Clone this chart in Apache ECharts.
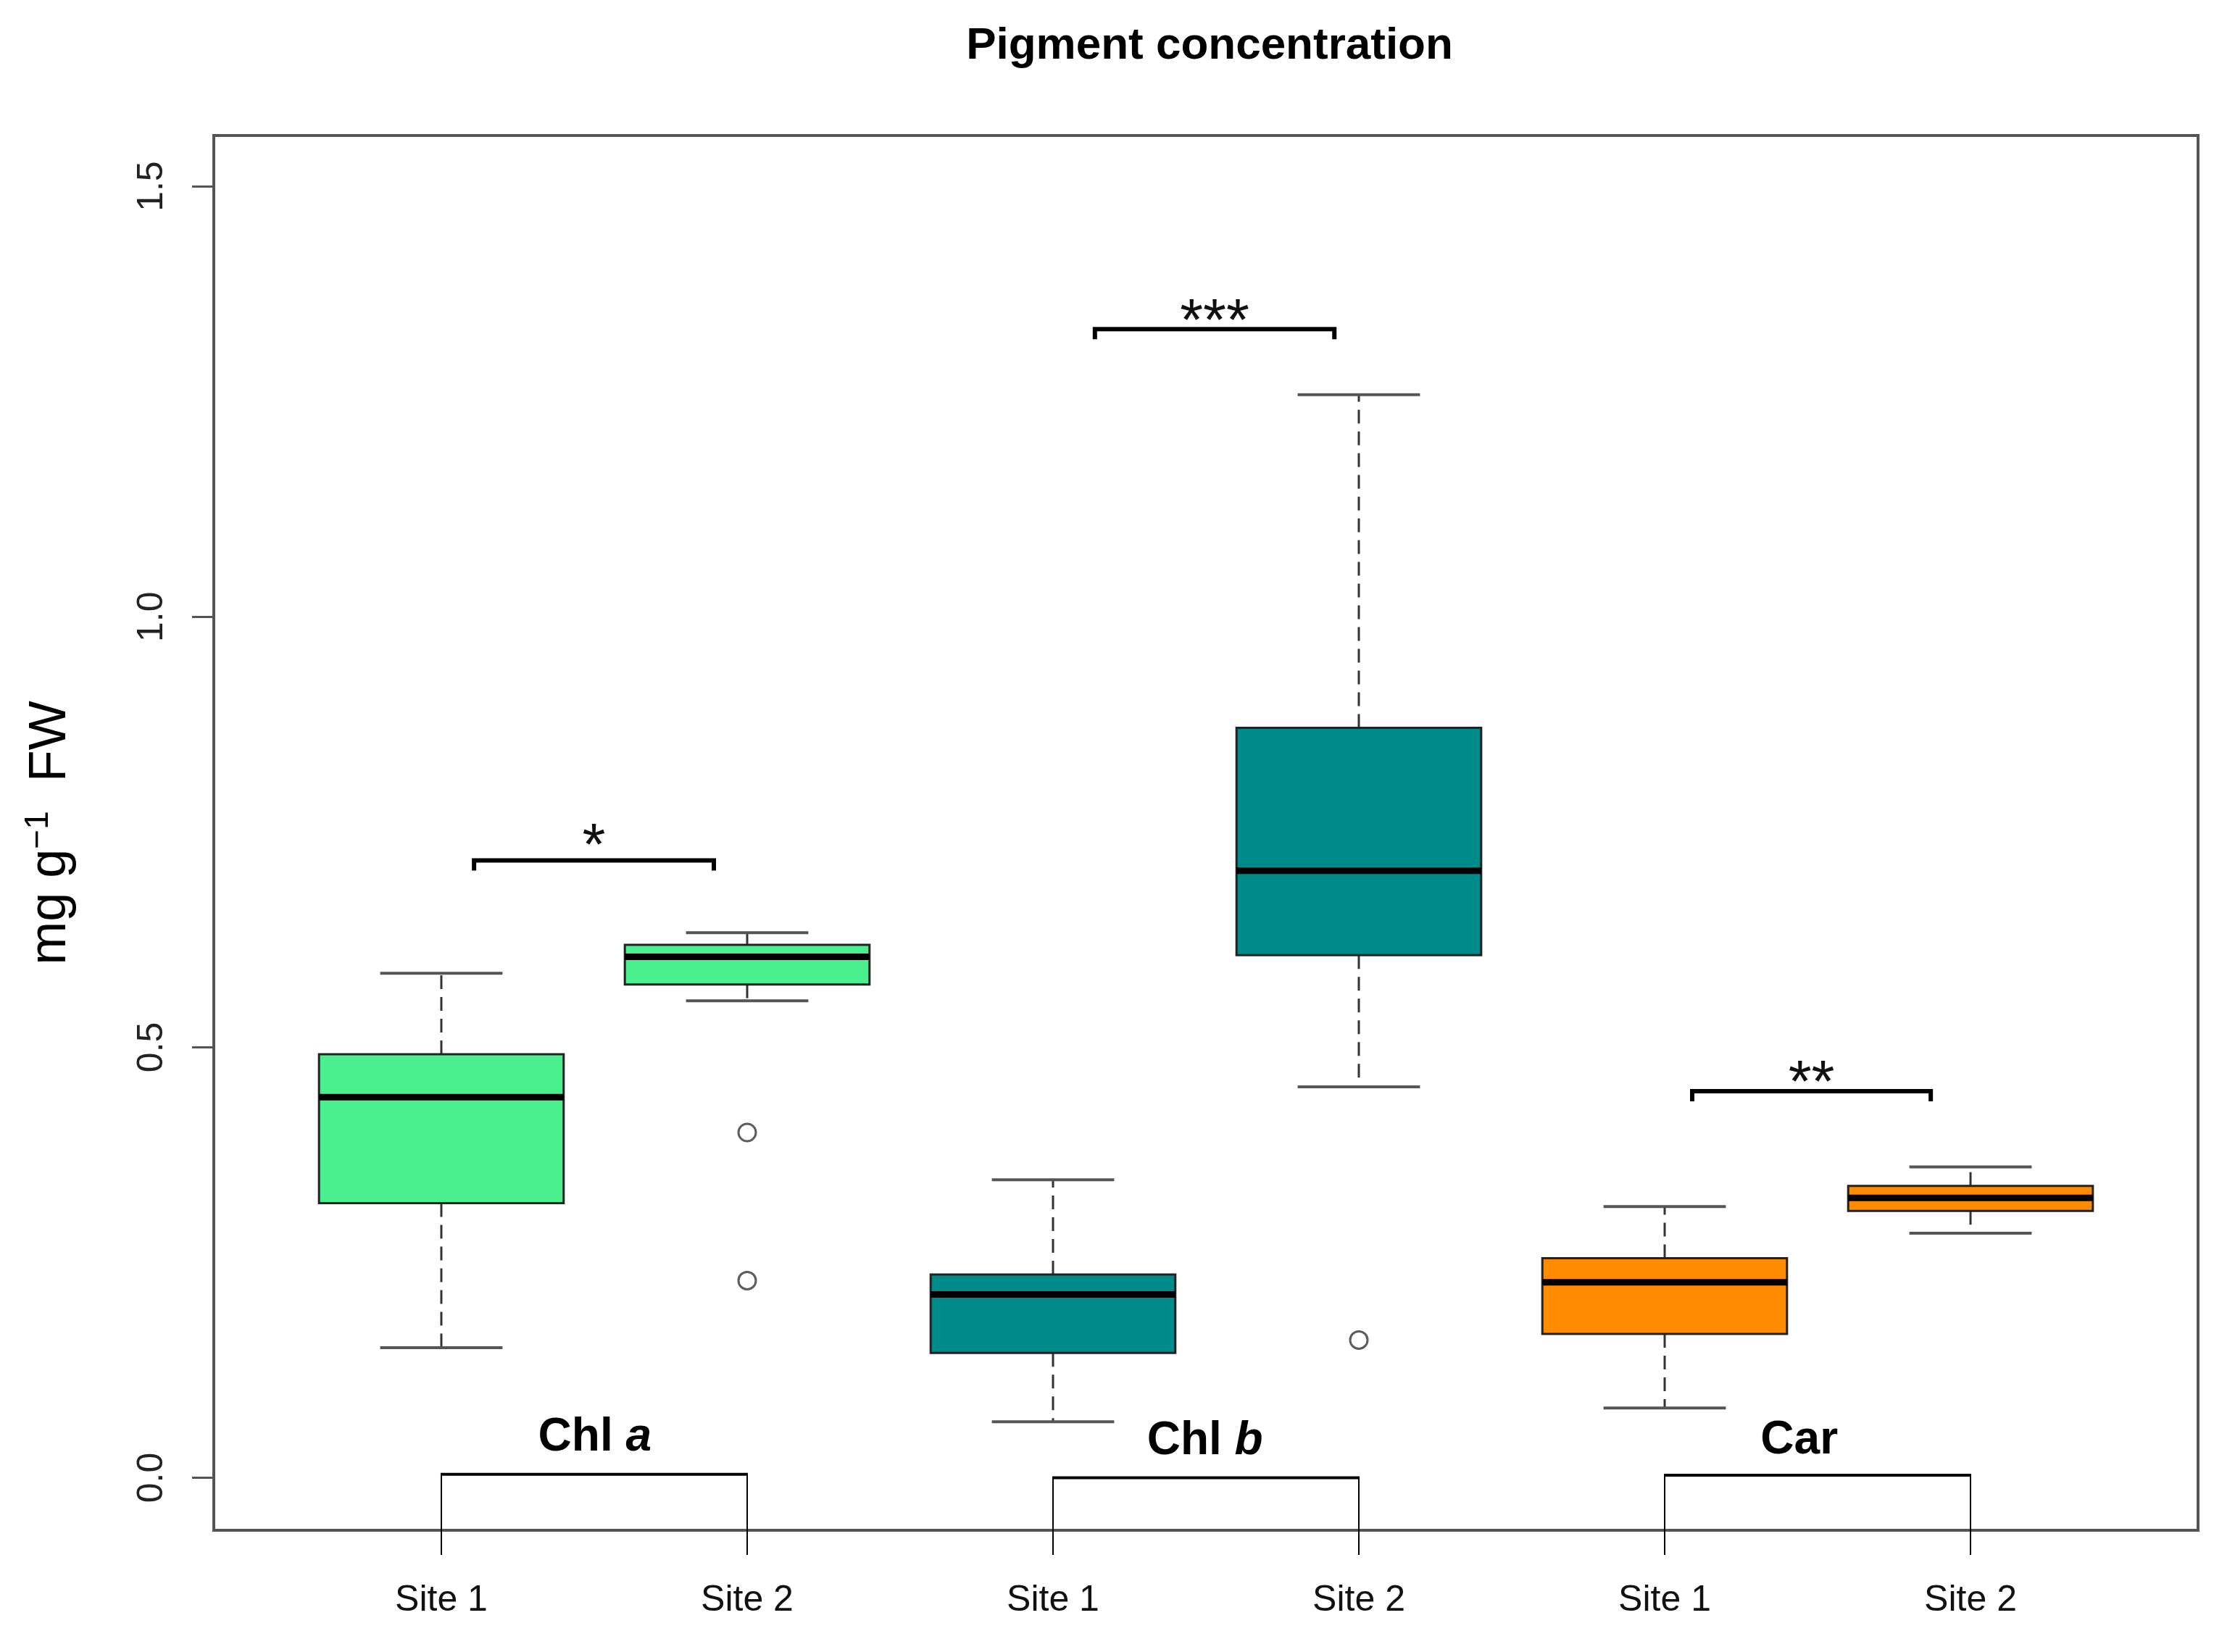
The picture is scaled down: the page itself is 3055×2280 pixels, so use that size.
<!DOCTYPE html>
<html>
<head>
<meta charset="utf-8">
<title>Pigment concentration</title>
<script src="https://cdn.jsdelivr.net/npm/echarts@6/dist/echarts.min.js"></script>
<style>
  html, body { margin: 0; padding: 0; background: #fff; }
  #chart { width: 3055px; height: 2280px; }
</style>
</head>
<body>
<div id="chart"></div>
<script>
// boxplot of pigment concentration, two sites per pigment
const categories = ['Site 1', 'Site 2', 'Site 1', 'Site 2', 'Site 1', 'Site 2'];
const pigments = ['Chl', 'Chl', 'Car'];
const pigmentItalic = ['a', 'b', ''];

// [lower whisker, Q1, median, Q3, upper whisker]
const chlA = [[0.151, 0.319, 0.442, 0.492, 0.586], [0.554, 0.573, 0.605, 0.619, 0.633]];
const chlB = [[0.065, 0.145, 0.213, 0.236, 0.346], [0.454, 0.607, 0.705, 0.871, 1.258]];
const car = [[0.081, 0.167, 0.227, 0.255, 0.315], [0.284, 0.310, 0.325, 0.339, 0.361]];

// [box position, value]
const outliers = [[2, 0.401], [2, 0.229], [4, 0.160]];

const signifLabels = ['*', '***', '**'];
const signifHeights = [0.717, 1.334, 0.449];
const yTicks = [0, 0.5, 1.0, 1.5];

const boxColors = ['#4AEF8E', '#008B8B', '#FF8C00'];
const FONT = '"Liberation Sans", Arial, sans-serif';
const Y_MIN = -0.061;
const Y_MAX = 1.559;

const boxData = [];
[chlA, chlB, car].forEach(function(group, g) {
  group.forEach(function(s, k) {
    boxData.push([g * 2 + k + 1].concat(s, [g]));
  });
});

// annotation layout: bracket spans and star heights in axis units
const signifSpans = [[1.107, 1.891], [3.137, 3.92], [5.09, 5.87]];
const signifTextY = [0.746, 1.355, 0.4705];
const signifData = signifLabels.map(function(lab, g) {
  return [signifSpans[g][0], signifSpans[g][1], signifHeights[g], g, signifTextY[g]];
});

// bracket under each pigment name
const groupData = [[1, 2, 0.004, 0, 1.502, 0.048], [3, 4, 0.0, 1, 3.497, 0.044], [5, 6, 0.003, 2, 5.44, 0.045]];

function renderBox(params, api) {
  const x = api.value(0);
  const lo = api.coord([x, api.value(1)]);
  const q1 = api.coord([x, api.value(2)]);
  const md = api.coord([x, api.value(3)]);
  const q3 = api.coord([x, api.value(4)]);
  const hi = api.coord([x, api.value(5)]);
  const color = boxColors[api.value(6)];
  const hb = api.size([0.4, 0])[0];
  const hc = api.size([0.2, 0])[0];
  const cx = lo[0];
  const dash = {stroke: '#333', lineWidth: 3, lineDash: [19, 11]};
  const cap = {stroke: '#555', lineWidth: 4};
  return {
    type: 'group',
    children: [
      {type: 'line', shape: {x1: cx, y1: q3[1], x2: cx, y2: hi[1]}, style: dash},
      {type: 'line', shape: {x1: cx, y1: q1[1], x2: cx, y2: lo[1]}, style: dash},
      {type: 'line', shape: {x1: cx - hc, y1: hi[1], x2: cx + hc, y2: hi[1]}, style: cap},
      {type: 'line', shape: {x1: cx - hc, y1: lo[1], x2: cx + hc, y2: lo[1]}, style: cap},
      {type: 'rect', shape: {x: cx - hb, y: q3[1], width: hb * 2, height: q1[1] - q3[1]},
        style: {fill: color, stroke: '#222', lineWidth: 3}},
      {type: 'line', shape: {x1: cx - hb, y1: md[1], x2: cx + hb, y2: md[1]},
        style: {stroke: '#000', lineWidth: 9}}
    ]
  };
}

function renderSignif(params, api) {
  const a = api.coord([api.value(0), api.value(2)]);
  const b = api.coord([api.value(1), api.value(2)]);
  const t = api.coord([(api.value(0) + api.value(1)) / 2, api.value(4)]);
  const lab = signifLabels[api.value(3)];
  return {
    type: 'group',
    children: [
      {type: 'polyline', shape: {points: [[a[0], a[1] + 14], a, b, [b[0], b[1] + 14]]},
        style: {stroke: '#000', lineWidth: 6, fill: null}},
      // asterisk ink sits ~17px above the text middle
      {type: 'text', x: t[0], y: t[1] + 17,
        style: {text: lab, fill: '#111', font: '82px ' + FONT, align: 'center', verticalAlign: 'middle'}}
    ]
  };
}

function renderGroup(params, api) {
  const y = api.value(2);
  const a = api.coord([api.value(0), y]);
  const b = api.coord([api.value(1), y]);
  const a0 = api.coord([api.value(0), Y_MIN]);
  const b0 = api.coord([api.value(1), Y_MIN]);
  const t = api.coord([api.value(4), api.value(5)]);
  const g = api.value(3);
  return {
    type: 'group',
    children: [
      {type: 'line', shape: {x1: a0[0], y1: a0[1], x2: a[0], y2: a[1]}, style: {stroke: '#000', lineWidth: 2}},
      {type: 'line', shape: {x1: b0[0], y1: b0[1], x2: b[0], y2: b[1]}, style: {stroke: '#000', lineWidth: 2}},
      {type: 'line', shape: {x1: a[0] - 1, y1: a[1], x2: b[0] + 1, y2: b[1]}, style: {stroke: '#000', lineWidth: 4}},
      {type: 'text', x: t[0], y: t[1] + 2,
        style: {
          text: '{n|' + pigments[g] + '}' + (pigmentItalic[g] ? '{n| }{i|' + pigmentItalic[g] + '}' : ''),
          align: 'center', verticalAlign: 'middle',
          rich: {
            n: {fontFamily: FONT, fontSize: 64, fontWeight: 'bold', fill: '#000', color: '#000'},
            i: {fontFamily: FONT, fontSize: 64, fontWeight: 'bold', fontStyle: 'italic', fill: '#000', color: '#000'}
          }
        }}
    ]
  };
}

const chart = echarts.init(document.getElementById('chart'), null, {renderer: 'canvas'});
const option = {
  backgroundColor: '#fff',
  animation: false,
  title: {
    text: 'Pigment concentration',
    left: 1664,
    top: 28,
    textAlign: 'center',
    textStyle: {fontFamily: FONT, fontSize: 62, fontWeight: 'bold', color: '#000'}
  },
  grid: {
    left: 295, right: 22, top: 187, bottom: 168,
    show: true, borderColor: '#555', borderWidth: 4, backgroundColor: 'transparent'
  },
  xAxis: {
    type: 'value',
    min: 0.256,
    max: 6.744,
    splitLine: {show: false},
    axisLine: {show: false, onZero: false},
    axisTick: {show: true, customValues: [1, 2, 3, 4, 5, 6], length: 34, lineStyle: {color: '#000', width: 2}},
    axisLabel: {
      customValues: [1, 2, 3, 4, 5, 6],
      formatter: function(v) { return categories[Math.round(v) - 1]; },
      margin: 72,
      fontFamily: FONT,
      fontSize: 50,
      color: '#111'
    }
  },
  yAxis: {
    type: 'value',
    min: Y_MIN,
    max: Y_MAX,
    name: '{a|mg g}{s|\u22121}{a|  FW}',
    nameLocation: 'middle',
    nameRotate: 90,
    nameGap: 185,
    nameTextStyle: {
      rich: {
        a: {fontFamily: FONT, fontSize: 72, color: '#000', lineHeight: 80},
        s: {fontFamily: FONT, fontSize: 46, color: '#000', verticalAlign: 'top', lineHeight: 80}
      }
    },
    splitLine: {show: false},
    axisLine: {show: false, onZero: false},
    axisTick: {show: true, customValues: yTicks, length: 30, lineStyle: {color: '#555', width: 3}},
    axisLabel: {
      customValues: yTicks,
      rotate: 90,
      formatter: function(v) { return v.toFixed(1); },
      margin: 60,
      fontFamily: FONT,
      fontSize: 50,
      color: '#222'
    }
  },
  series: [{
    type: 'custom',
    name: 'box',
    renderItem: renderBox,
    encode: {x: 0, y: [1, 2, 3, 4, 5]},
    data: boxData,
    z: 2
  }, {
    type: 'scatter',
    name: 'outlier',
    symbol: 'circle',
    symbolSize: 24,
    itemStyle: {color: '#fff', borderColor: '#333', borderWidth: 3},
    data: outliers,
    z: 3
  }, {
    type: 'custom',
    name: 'signif',
    renderItem: renderSignif,
    encode: {x: [0, 1], y: 2},
    data: signifData,
    z: 4
  }, {
    type: 'custom',
    name: 'group',
    renderItem: renderGroup,
    encode: {x: [0, 1], y: 2},
    data: groupData,
    clip: false,
    z: 4
  }]
};
chart.setOption(option);
</script>
</body>
</html>
